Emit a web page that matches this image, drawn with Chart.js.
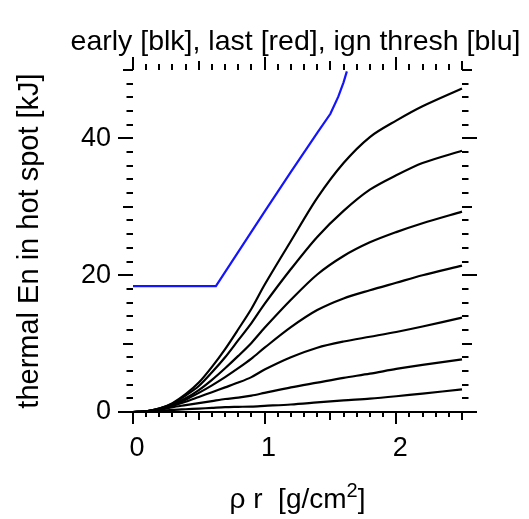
<!DOCTYPE html>
<html>
<head>
<meta charset="utf-8">
<script src="https://cdn.jsdelivr.net/npm/chart.js@4.4.1/dist/chart.umd.min.js"></script>
<style>
  html, body { margin: 0; padding: 0; background: #fff; }
  #wrap { width: 529px; height: 519px; }
</style>
</head>
<body>
<div id="wrap"><canvas id="c" width="529" height="519"></canvas></div>
<script>
// rho*r values shared by the black curves
const rhoR = [0, 0.1, 0.2, 0.3, 0.4, 0.5, 0.6, 0.7, 0.8, 0.9, 1.0, 1.2, 1.4, 1.6, 1.8, 2.0, 2.2, 2.5];

// thermal energy in hot spot [kJ], black curves from top to bottom
const early1 = [0, 0.1, 0.5, 1.3, 2.6, 4.3, 6.6, 9.2, 12.1, 15.1, 18.6, 25.0, 31.3, 36.4, 40.2, 42.6, 44.7, 47.3];
const early2 = [0, 0.1, 0.5, 1.2, 2.4, 3.8, 5.8, 8.0, 10.5, 13.0, 15.8, 20.9, 25.6, 29.4, 32.5, 34.6, 36.4, 38.2];
const early3 = [0, 0.1, 0.5, 1.1, 2.0, 3.2, 4.7, 6.4, 8.2, 10.1, 12.3, 16.4, 20.1, 22.8, 24.8, 26.3, 27.6, 29.3];
const early4 = [0, 0.1, 0.4, 1.0, 1.8, 2.8, 3.9, 5.1, 6.4, 7.8, 9.4, 12.4, 14.9, 16.6, 17.8, 18.9, 20.0, 21.4];
const early5 = [0, 0.1, 0.4, 0.9, 1.5, 2.2, 2.9, 3.6, 4.3, 5.1, 6.2, 8.0, 9.4, 10.3, 11.0, 11.7, 12.5, 13.8];
const early6 = [0, 0.05, 0.3, 0.7, 1.0, 1.3, 1.6, 1.9, 2.1, 2.4, 2.8, 3.6, 4.3, 5.0, 5.6, 6.3, 6.9, 7.7];
const early7 = [0, 0.05, 0.15, 0.3, 0.4, 0.5, 0.6, 0.7, 0.75, 0.8, 0.9, 1.1, 1.4, 1.7, 1.95, 2.3, 2.7, 3.3];
const early8 = [0, 0, 0, 0, 0, 0, 0, 0, 0, 0, 0, 0, 0, 0, 0, 0, 0, 0];

// ignition threshold (blue)
const threshX = [0, 0.63, 0.8, 1.0, 1.2, 1.4, 1.5, 1.56, 1.6, 1.625];
const threshY = [18.4, 18.4, 23.4, 29.3, 35.1, 40.8, 43.6, 46.1, 48.2, 49.8];

// axes
const xMin = 0, xMax = 2.5, xMinorStep = 0.1;
const yMin = 0, yMax = 50, yMinorStep = 2;
const xLabels = [0, 1, 2];
const yLabels = [0, 20, 40];

const titleText = 'early [blk], last [red], ign thresh [blu]';

const FONT = "'Liberation Sans', Arial, Helvetica, sans-serif";

function pts(xs, ys) {
    return xs.map(function(v, i) { return { x: v, y: ys[i] }; });
}

const blackCurves = [early1, early2, early3, early4, early5, early6, early7, early8].map(function(arr) {
    return {
        data: pts(rhoR, arr),
        borderColor: '#000',
        borderWidth: 2.2,
        pointRadius: 0,
        tension: 0.3,
        clip: false
    };
});

// tick marks on all four sides (short / medium / long), plus the titles
const frameTicks = {
    id: 'frameTicks',
    afterDraw(chart) {
        const ctx = chart.ctx;
        const a = chart.chartArea;
        const xs = chart.scales.x, ys = chart.scales.y;
        ctx.save();
        ctx.strokeStyle = '#000';
        ctx.lineWidth = 2;
        ctx.beginPath();
        const nx = Math.round((xMax - xMin) / xMinorStep);
        for (let i = 0; i <= nx; i++) {
            const px = Math.round(xs.getPixelForValue(xMin + i * xMinorStep));
            const len = (i % 10 === 0) ? 12 : (i % 5 === 0 ? 8 : 5);
            const lenTop = (i % 10 === 0) ? 13 : (i % 5 === 0 ? 9 : 6);
            ctx.moveTo(px, a.bottom);
            ctx.lineTo(px, a.bottom + len);
            ctx.moveTo(px, a.top);
            ctx.lineTo(px, a.top - lenTop);
        }
        const ny = Math.round((yMax - yMin) / yMinorStep);
        for (let j = 0; j <= ny; j++) {
            const v = yMin + j * yMinorStep;
            const py = Math.round(ys.getPixelForValue(v));
            const len = (v % 20 === 0) ? 15 : (v % 10 === 0 ? 10 : 6.5);
            ctx.moveTo(a.left, py);
            ctx.lineTo(a.left - len, py);
            ctx.moveTo(a.right, py);
            ctx.lineTo(a.right + len, py);
        }
        ctx.stroke();

        ctx.fillStyle = '#000';
        ctx.textBaseline = 'alphabetic';

        // top title, centred over the plot
        ctx.textAlign = 'center';
        ctx.font = '28.5px ' + FONT;
        ctx.fillText(titleText, (a.left + a.right) / 2 - 2, a.top - 20);

        // x axis title with superscript
        ctx.textAlign = 'left';
        const main = 'ρ r  [g/cm', sup = '2', tail = ']';
        ctx.font = '28px ' + FONT;
        const wMain = ctx.measureText(main).width;
        const wTail = ctx.measureText(tail).width;
        ctx.font = '20px ' + FONT;
        const wSup = ctx.measureText(sup).width;
        const total = wMain + wSup + wTail;
        const x0 = (a.left + a.right) / 2 - total / 2;
        const base = a.bottom + 96;
        ctx.font = '28px ' + FONT;
        ctx.fillText(main, x0, base);
        ctx.font = '20px ' + FONT;
        ctx.fillText(sup, x0 + wMain, base - 11);
        ctx.font = '28px ' + FONT;
        ctx.fillText(tail, x0 + wMain + wSup, base);
        ctx.restore();
    }
};

const config = {
    type: 'line',
    data: {
        datasets: blackCurves.concat([{
            data: pts(threshX, threshY),
            borderColor: '#1414ff',
            borderWidth: 2.2,
            pointRadius: 0,
            tension: 0,
            clip: false
        }])
    },
    options: {
        responsive: false,
        animation: false,
        devicePixelRatio: 1,
        layout: { padding: { left: 0, right: 67, top: 70, bottom: 0 } },
        plugins: {
            legend: { display: false },
            tooltip: { enabled: false },
            title: { display: false }
        },
        scales: {
            x: {
                type: 'linear',
                min: xMin,
                max: xMax,
                border: { display: false },
                grid: { display: false, drawTicks: false },
                ticks: {
                    stepSize: 1,
                    includeBounds: false,
                    padding: 20,
                    labelOffset: 4,
                    color: '#000',
                    font: { family: FONT, size: 27 },
                    callback: function(v) { return xLabels.indexOf(v) >= 0 ? String(v) : ''; }
                },
                afterFit: function(s) { s.height = 107; }
            },
            y: {
                type: 'linear',
                min: yMin,
                max: yMax,
                border: { display: false },
                grid: { display: false, drawTicks: false },
                ticks: {
                    stepSize: 20,
                    includeBounds: false,
                    padding: 22,
                    color: '#000',
                    font: { family: FONT, size: 27 },
                    callback: function(v) { return yLabels.indexOf(v) >= 0 ? String(v) : ''; }
                },
                title: {
                    display: true,
                    text: 'thermal En in hot spot [kJ]',
                    color: '#000',
                    font: { family: FONT, size: 29 },
                    padding: { top: 12.6, bottom: 0 }
                },
                afterFit: function(s) { s.width = 133; }
            }
        }
    },
    plugins: [frameTicks]
};

new Chart(document.getElementById('c').getContext('2d'), config);
</script>
</body>
</html>
